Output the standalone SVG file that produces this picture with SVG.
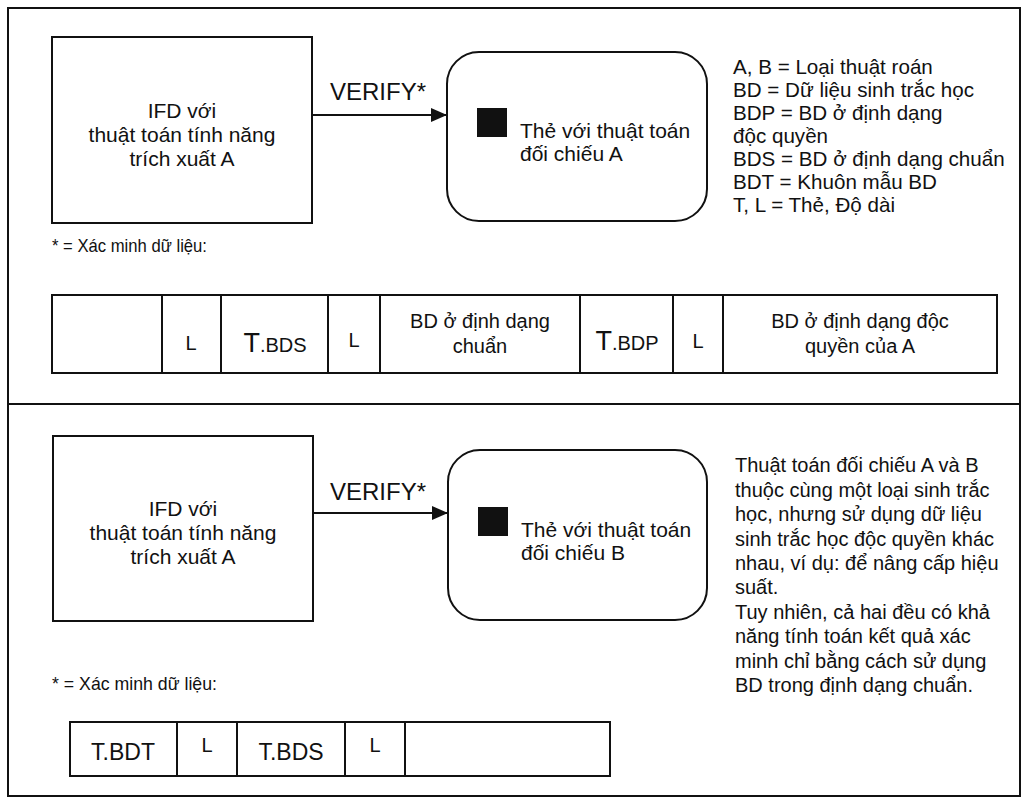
<svg xmlns="http://www.w3.org/2000/svg" width="1026" height="800" viewBox="0 0 1026 800">
<defs>
<style>
.ln{fill:none;stroke:#111;stroke-width:2}
.bx{fill:#fff;stroke:#111;stroke-width:2}
.t{font-family:"Liberation Sans",Arial,sans-serif;font-size:20px;fill:#111}
.c{text-anchor:middle}
.m{font-size:21px}
.lg{font-size:20.6px}
.big{font-size:27px}
.sm{font-size:19px}
.vf{font-size:24px}
.cell{font-size:23px}
</style>
<marker id="ah" viewBox="0 0 16 14" refX="16" refY="7" markerWidth="16" markerHeight="14" markerUnits="userSpaceOnUse" orient="auto">
<path d="M0,0 L16,7 L0,14 Z" fill="#111"/>
</marker>
</defs>
<rect width="1026" height="800" fill="#fff"/>
<g id="frame">
<rect x="8" y="8" width="1012" height="788" class="ln"/>
<line x1="8" y1="404" x2="1020" y2="404" class="ln"/>
</g>
<g id="connectors">
<line x1="312" y1="115" x2="447" y2="115" class="ln" marker-end="url(#ah)"/>
<text x="330" y="100" class="t vf">VERIFY*</text>
<line x1="313" y1="513" x2="448" y2="513" class="ln" marker-end="url(#ah)"/>
<text x="330" y="500" class="t vf">VERIFY*</text>
</g>
<g id="ifd-top">
<rect x="52" y="37" width="260" height="186" class="bx"/>
<text x="182" y="118" class="t c m">IFD với</text>
<text x="182" y="142" class="t c m">thuật toán tính năng</text>
<text x="182" y="166" class="t c m">trích xuất A</text>
</g>
<g id="card-top">
<rect x="447" y="52" width="260" height="169" rx="32" class="bx"/>
<rect x="477" y="108" width="30" height="29" fill="#111"/>
<text x="520" y="138" class="t m">Thẻ với thuật toán</text>
<text x="520" y="161" class="t m">đối chiếu A</text>
</g>
<g id="legend">
<text x="733" y="74" class="t lg">A, B = Loại thuật roán</text>
<text x="733" y="97" class="t lg">BD = Dữ liệu sinh trắc học</text>
<text x="733" y="120" class="t lg">BDP = BD ở định dạng</text>
<text x="733" y="143" class="t lg">độc quyền</text>
<text x="733" y="166" class="t lg">BDS = BD ở định dạng chuẩn</text>
<text x="733" y="189" class="t lg">BDT = Khuôn mẫu BD</text>
<text x="733" y="212" class="t lg">T, L = Thẻ, Độ dài</text>
</g>
<g id="table-top">
<text x="52" y="252" class="t sm" textLength="155" lengthAdjust="spacingAndGlyphs">* = Xác minh dữ liệu:</text>
<rect x="52" y="295" width="945" height="78" class="bx"/>
<line x1="162" y1="295" x2="162" y2="373" class="ln"/>
<line x1="221" y1="295" x2="221" y2="373" class="ln"/>
<line x1="328" y1="295" x2="328" y2="373" class="ln"/>
<line x1="380" y1="295" x2="380" y2="373" class="ln"/>
<line x1="580" y1="295" x2="580" y2="373" class="ln"/>
<line x1="673" y1="295" x2="673" y2="373" class="ln"/>
<line x1="723" y1="295" x2="723" y2="373" class="ln"/>
<text x="191" y="350" class="t c">L</text>
<text x="275" y="352" class="t c"><tspan class="big">T</tspan>.BDS</text>
<text x="354" y="347" class="t c">L</text>
<text x="480" y="328" class="t c">BD ở định dạng</text>
<text x="480" y="353" class="t c">chuẩn</text>
<text x="627" y="350" class="t c"><tspan class="big">T</tspan>.BDP</text>
<text x="698" y="348" class="t c">L</text>
<text x="860" y="328" class="t c">BD ở định dạng độc</text>
<text x="860" y="353" class="t c">quyền của A</text>
</g>
<g id="ifd-bottom">
<rect x="53" y="436" width="260" height="185" class="bx"/>
<text x="183" y="516" class="t c m">IFD với</text>
<text x="183" y="540" class="t c m">thuật toán tính năng</text>
<text x="183" y="564" class="t c m">trích xuất A</text>
</g>
<g id="card-bottom">
<rect x="448" y="450" width="259" height="170" rx="32" class="bx"/>
<rect x="478" y="507" width="30" height="29" fill="#111"/>
<text x="521" y="537" class="t m">Thẻ với thuật toán</text>
<text x="521" y="560" class="t m">đối chiếu B</text>
</g>
<g id="note">
<text x="735" y="472" class="t">Thuật toán đối chiếu A và B</text>
<text x="735" y="497" class="t">thuộc cùng một loại sinh trắc</text>
<text x="735" y="521" class="t">học, nhưng sử dụng dữ liệu</text>
<text x="735" y="546" class="t">sinh trắc học độc quyền khác</text>
<text x="735" y="570" class="t">nhau, ví dụ: để nâng cấp hiệu</text>
<text x="735" y="594" class="t">suất.</text>
<text x="735" y="619" class="t">Tuy nhiên, cả hai đều có khả</text>
<text x="735" y="643" class="t">năng tính toán kết quả xác</text>
<text x="735" y="668" class="t">minh chỉ bằng cách sử dụng</text>
<text x="735" y="692" class="t">BD trong định dạng chuẩn.</text>
</g>
<g id="table-bottom">
<text x="52" y="690" class="t sm" textLength="165" lengthAdjust="spacingAndGlyphs">* = Xác minh dữ liệu:</text>
<rect x="70" y="722" width="540" height="54" class="bx"/>
<line x1="177" y1="722" x2="177" y2="776" class="ln"/>
<line x1="237" y1="722" x2="237" y2="776" class="ln"/>
<line x1="345" y1="722" x2="345" y2="776" class="ln"/>
<line x1="405" y1="722" x2="405" y2="776" class="ln"/>
<text x="123" y="760" class="t c cell">T.BDT</text>
<text x="207" y="752" class="t c">L</text>
<text x="291" y="760" class="t c cell">T.BDS</text>
<text x="375" y="752" class="t c">L</text>
</g>
</svg>
